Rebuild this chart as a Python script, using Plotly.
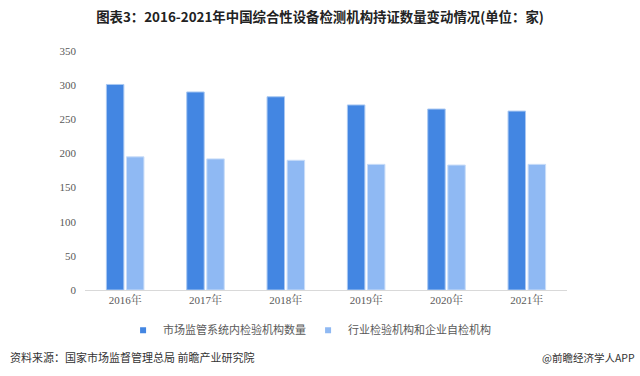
import plotly.graph_objects as go

categories = ["2016年", "2017年", "2018年", "2019年", "2020年", "2021年"]
series_a_name = "市场监管系统内检验机构数量"
series_a = [301, 290, 283, 271, 265, 262]
series_b_name = "行业检验机构和企业自检机构"
series_b = [195, 192, 190, 184, 183, 184]
y_ticks = [0, 50, 100, 150, 200, 250, 300, 350]

title = "图表3：2016-2021年中国综合性设备检测机构持证数量变动情况(单位：家)"
source = "资料来源：国家市场监督管理总局 前瞻产业研究院"
credit = "@前瞻经济学人APP"

cjk = "Noto Sans CJK SC"
serif = "Times New Roman, Liberation Serif, Noto Serif CJK SC, Noto Sans CJK SC"

color_a = "#4386E2"
color_b = "#8FB9F3"

fig = go.Figure()
fig.add_trace(go.Bar(x=categories, y=series_a, name=series_a_name, showlegend=False,
                     marker=dict(color=color_a, line=dict(color="#A9C8F2", width=1))))
fig.add_trace(go.Bar(x=categories, y=series_b, name=series_b_name, showlegend=False,
                     marker=dict(color=color_b, line=dict(color="#C9DDF8", width=1))))
# legend entries with small square markers
fig.add_trace(go.Scatter(x=[None], y=[None], mode="markers", name=series_a_name,
                         marker=dict(symbol="square", size=6, color=color_a)))
fig.add_trace(go.Scatter(x=[None], y=[None], mode="markers", name=series_b_name,
                         marker=dict(symbol="square", size=6, color=color_b)))

fig.update_layout(
    width=640, height=376,
    margin=dict(l=85, r=73, t=51, b=86),
    paper_bgcolor="white", plot_bgcolor="white",
    barmode="group", bargap=0.5, bargroupgap=0.13,
    title=dict(text="<b>" + title + "</b>", x=0.5, xanchor="center", y=0.955, yanchor="middle",
               font=dict(family=cjk, size=13.4, color="#222222")),
    xaxis=dict(showline=True, linecolor="#D9D9D9", linewidth=1, ticks="",
               tickfont=dict(family=serif, size=11, color="#595959")),
    yaxis=dict(range=[0, 350], tickvals=y_ticks, showgrid=False, zeroline=False,
               showline=False, tickfont=dict(family=serif, size=11, color="#595959"),
               ticklabelstandoff=8),
    legend=dict(orientation="h", x=0.079, xanchor="left", y=-0.168, yanchor="middle",
                font=dict(family=cjk, size=11, color="#595959"),
                itemwidth=30, traceorder="normal", entrywidth=140),
    showlegend=True,
)

fig.add_annotation(text=source, xref="paper", yref="paper", x=-0.16, y=-0.282,
                   xanchor="left", yanchor="middle", showarrow=False,
                   font=dict(family=cjk, size=11, color="#333333"))
fig.add_annotation(text=credit, xref="paper", yref="paper", x=1.145, y=-0.282,
                   xanchor="right", yanchor="middle", showarrow=False,
                   font=dict(family=cjk, size=10.5, color="#333333"))

fig.write_html("out.html", config={"displayModeBar": False},
               post_script="document.body.style.margin='0';")
